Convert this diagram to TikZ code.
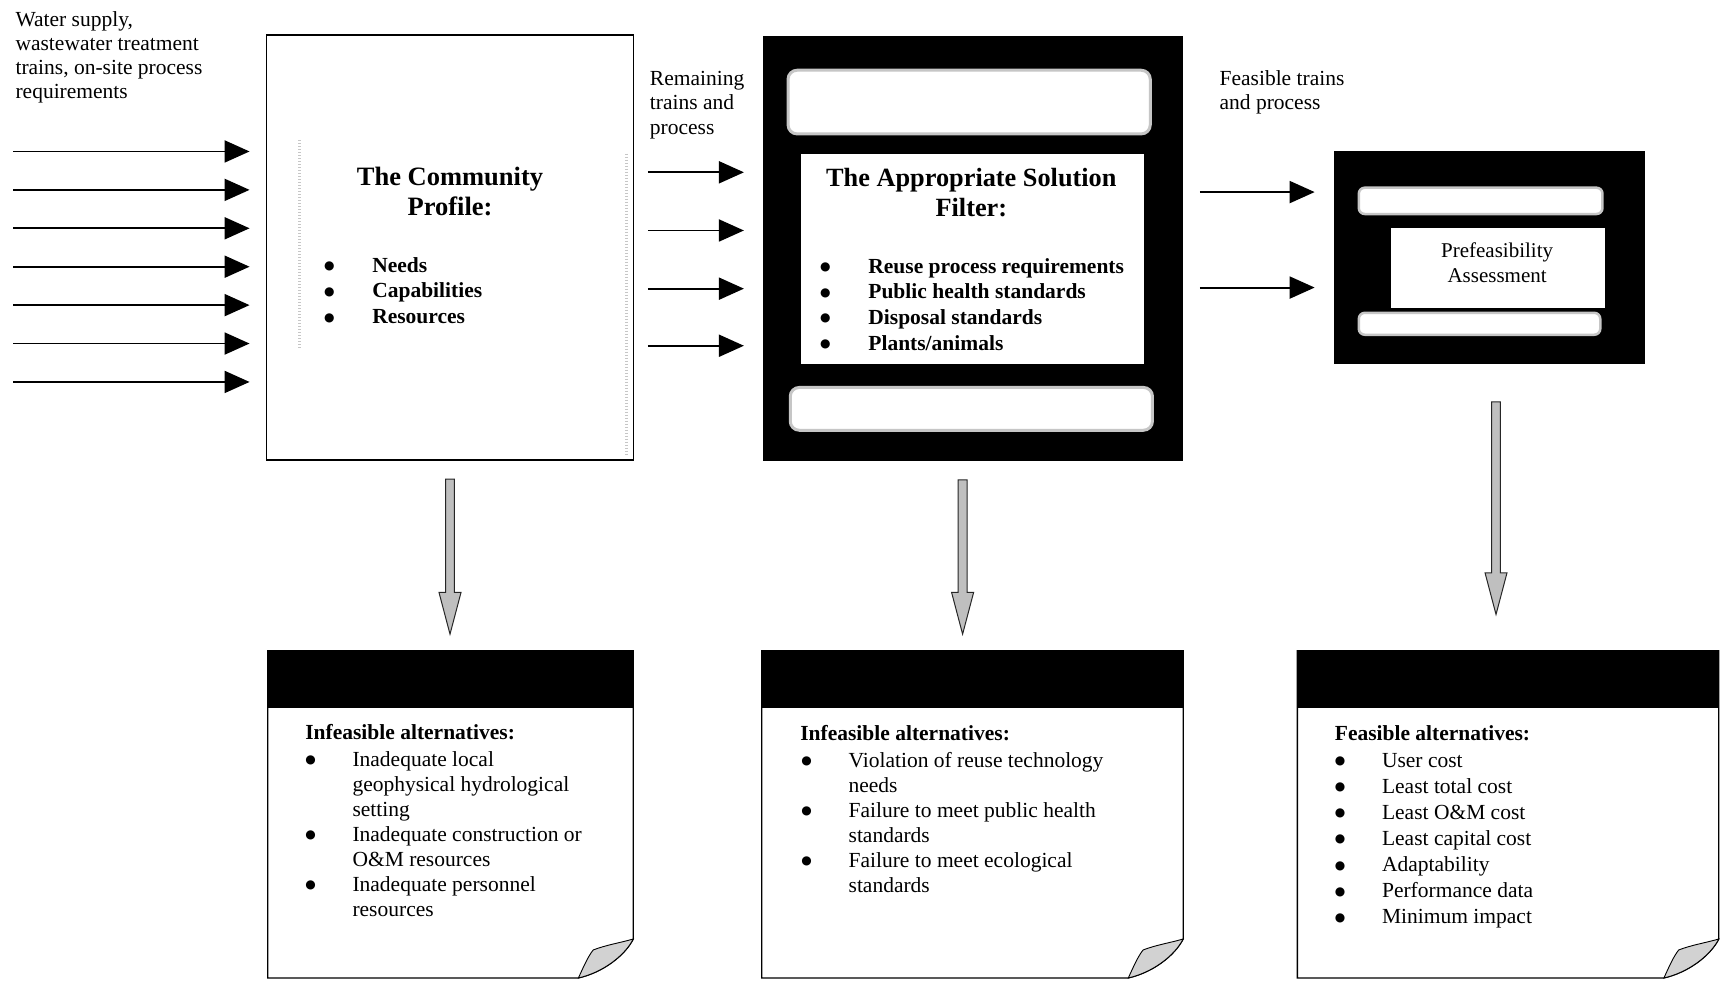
\documentclass[tikz,border=0pt]{standalone}
\usepackage{fontspec}
\setmainfont{Liberation Serif}
\newfontfamily\dejavu{DejaVu Sans}
\usetikzlibrary{arrows.meta,calc,fit}
\newcommand\fs[2]{\fontsize{#1}{#2}\selectfont}
\newcommand\bul{\raisebox{2.6pt}{\dejavu\fontsize{12}{12}\selectfont ●}}
\newcommand\grayarrow[2]{%
  \draw[grayarr] let \p1=(#1), \p2=(#2) in
   (\x1-4.4pt,\y1) -- (\x1+4.4pt,\y1) -- (\x1+4.4pt,\y2+41.7pt) -- (\x1+11pt,\y2+41.7pt)
   -- (\x1,\y2) -- (\x1-11pt,\y2+41.7pt) -- (\x1-4.4pt,\y2+41.7pt) -- cycle;}
\newcommand\pagebox[3]{%
  \coordinate (#1nw) at (#2,593); \coordinate (#1se) at (#3,891);
  \draw[pagebox] (#2,593) -- (#3,593) -- (#3,855.5) .. controls (#3-8,871) and (#3-28,886) .. (#3-50,891) -- (#2,891) -- cycle;
  \fill (#2,593) rectangle (#3,645);
  \filldraw[flap] (#3,855.5) .. controls (#3-8,871) and (#3-28,886) .. (#3-50,891)
     .. controls (#3-45,880) and (#3-41,871) .. (#3-36.5,865.5)
     .. controls (#3-25,861) and (#3-12,859) .. (#3,855.5) -- cycle;
  \node[fit=(#1nw)(#1se), inner sep=0pt] (#1) {};}
\begin{document}
\begin{tikzpicture}[x=1.0976pt,y=-1.0976pt,
  inarr/.style={line width=1.9pt, -{Triangle[length=25pt,width=22pt]}},
  grayarr/.style={fill=gray!50, draw=black!85, line width=1pt},
  band/.style={fill=white, draw=gray!45, line width=3pt, rounded corners=9pt},
  lbl/.style={inner sep=0pt, anchor=base west},
  ctr/.style={inner sep=0pt, anchor=base},
  pagebox/.style={draw, fill=white, line width=1.3pt},
  flap/.style={fill=gray!35, draw, line width=0.9pt},
  speck/.style={gray!45, line width=2.5pt, dash pattern=on 1pt off 2pt}]
\useasboundingbox (0,0) rectangle (1568,894);

% ---- box 1: community profile
\coordinate (b1a) at (243,32); \coordinate (b1b) at (577,419);
\node[fit=(b1a)(b1b), inner sep=0pt, draw, line width=1.3pt] (box1) {};
\draw[speck] (273,128) -- (273,318);
\draw[speck] (571,140) -- (571,416);

% ---- box 2: appropriate solution filter
\coordinate (b2a) at (695,33); \coordinate (b2b) at (1078,420);
\node[fit=(b2a)(b2b), inner sep=0pt, fill=black] (box2) {};
\draw[band] (718,64) rectangle (1048,122);
\draw[band] (720,353) rectangle (1050,392);
\coordinate (f2a) at (730,140); \coordinate (f2b) at (1042,332);
\node[fit=(f2a)(f2b), inner sep=0pt, fill=white] (filt) {};

% ---- box 3: prefeasibility
\coordinate (b3a) at (1215,138); \coordinate (b3b) at (1499,332);
\node[fit=(b3a)(b3b), inner sep=0pt, fill=black] (box3) {};
\draw[band, rounded corners=6pt, line width=2.5pt] (1238,171) rectangle (1460,195);
\draw[band, rounded corners=6pt, line width=2.5pt] (1238,285) rectangle (1458,305);
\coordinate (p3a) at (1267,208); \coordinate (p3b) at (1462,281);
\node[fit=(p3a)(p3b), inner sep=0pt, fill=white] (pref) {};

% ---- bottom boxes
\pagebox{boxA}{244}{577}
\pagebox{boxB}{694}{1078}
\pagebox{boxC}{1182}{1566}

% ---- input arrows
\foreach \i/\yy in {1/138,2/173,3/208,4/243,5/278,6/313,7/348}{
  \coordinate (in\i) at (12,\yy);
  \draw[inarr, shorten >=16.5pt] (in\i) -- (in\i -| box1.west);}
\foreach \i/\yy in {1/157,2/210,3/263,4/315}{
  \coordinate (m\i) at (0,\yy);
  \draw[inarr, shorten <=14pt, shorten >=18.7pt] (m\i -| box1.east) -- (m\i -| box2.west);}
\foreach \i/\yy in {1/175,2/262}{
  \coordinate (r\i) at (0,\yy);
  \draw[inarr, shorten <=16.5pt, shorten >=18.7pt] (r\i -| box2.east) -- (r\i -| box3.west);}

% ---- gray down arrows
\grayarrow{[yshift=-18.7pt]box1.south}{[yshift=16.5pt]boxA.north}
\grayarrow{[xshift=-10.4pt,yshift=-18.7pt]box2.south}{[yshift=16.5pt]boxB.north}
\grayarrow{[xshift=6.6pt,yshift=-37.3pt]box3.south}{[yshift=36.2pt]boxC.north}

% ---- labels
\node[lbl] (src) at (14,24) {\fs{21.5}{24.2}\begin{tabular}[t]{@{}l@{}}Water supply,\\wastewater treatment\\trains, on-site process\\requirements\end{tabular}};
\node[lbl] (rem) at (592,78) {\fs{21.5}{24.2}\begin{tabular}[t]{@{}l@{}}Remaining\\trains and\\process\end{tabular}};
\node[lbl] (fea) at (1111,78) {\fs{21.5}{24.2}\begin{tabular}[t]{@{}l@{}}Feasible trains\\and process\end{tabular}};

% box 1 text
\node[ctr] (t1) at (410,169) {\fs{26.5}{29.6}\bfseries\begin{tabular}[t]{@{}c@{}}The Community\\Profile:\end{tabular}};
\node[ctr] (t1b) at (300,248) {\fs{21.5}{25.8}\begin{tabular}[t]{@{}c@{}}\bul\\\bul\\\bul\end{tabular}};
\node[lbl] (t1t) at (339,248) {\fs{21.5}{25.8}\bfseries\begin{tabular}[t]{@{}l@{}}Needs\\Capabilities\\Resources\end{tabular}};

% box 2 text
\node[ctr] (t2) at (885,170) {\fs{26.3}{29.6}\bfseries\begin{tabular}[t]{@{}c@{}}The Appropriate Solution\\Filter:\end{tabular}};
\node[ctr] (t2b) at (752,249) {\fs{21.5}{25.6}\begin{tabular}[t]{@{}c@{}}\bul\\\bul\\\bul\\\bul\end{tabular}};
\node[lbl] (t2t) at (791,249) {\fs{21.5}{25.6}\bfseries\begin{tabular}[t]{@{}l@{}}Reuse process requirements\\Public health standards\\Disposal standards\\Plants/animals\end{tabular}};

% box 3 text
\node[ctr] (t3) at (1364,235) {\fs{21}{24.1}\begin{tabular}[t]{@{}c@{}}Prefeasibility\\Assessment\end{tabular}};

% bottom A
\node[lbl] (ha) at (278,674) {\fs{21.5}{25}\bfseries Infeasible alternatives:};
\node[ctr] (ba) at (283,698) {\fs{21.5}{25}\begin{tabular}[t]{@{}c@{}}\bul\\ \\ \\\bul\\ \\\bul\\ \end{tabular}};
\node[lbl] (ta) at (321,698) {\fs{21.5}{25}\begin{tabular}[t]{@{}l@{}}Inadequate local\\geophysical hydrological\\setting\\Inadequate construction or\\O\&M resources\\Inadequate personnel\\resources\end{tabular}};

% bottom B
\node[lbl] (hb) at (729,675) {\fs{21.5}{25}\bfseries Infeasible alternatives:};
\node[ctr] (bb) at (735,699) {\fs{21.5}{25}\begin{tabular}[t]{@{}c@{}}\bul\\ \\\bul\\ \\\bul\\ \end{tabular}};
\node[lbl] (tb) at (773,699) {\fs{21.5}{25}\begin{tabular}[t]{@{}l@{}}Violation of reuse technology\\needs\\Failure to meet public health\\standards\\Failure to meet ecological\\standards\end{tabular}};

% bottom C
\node[lbl] (hc) at (1216,675) {\fs{21.5}{26.1}\bfseries Feasible alternatives:};
\node[ctr] (bc) at (1221,699) {\fs{21.5}{26.1}\begin{tabular}[t]{@{}c@{}}\bul\\\bul\\\bul\\\bul\\\bul\\\bul\\\bul\end{tabular}};
\node[lbl] (tc) at (1259,699) {\fs{21.5}{26.1}\begin{tabular}[t]{@{}l@{}}User cost\\Least total cost\\Least O\&M cost\\Least capital cost\\Adaptability\\Performance data\\Minimum impact\end{tabular}};
\end{tikzpicture}
\end{document}
